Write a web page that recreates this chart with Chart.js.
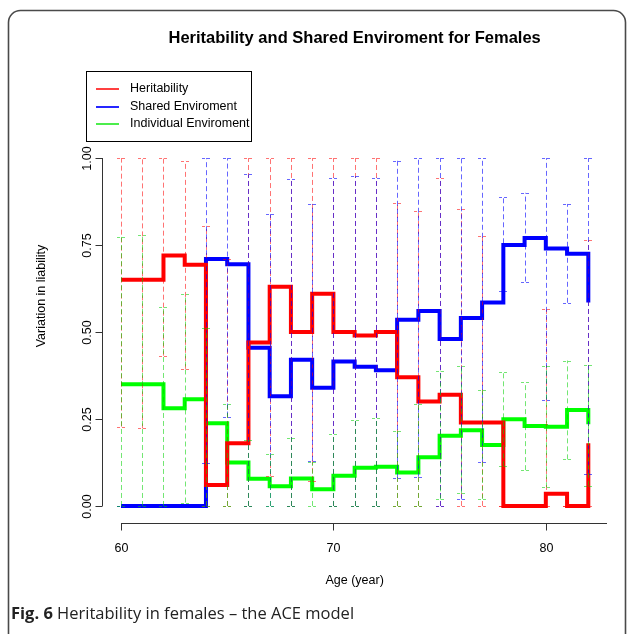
<!DOCTYPE html>
<html>
<head>
<meta charset="utf-8">
<script src="https://cdn.jsdelivr.net/npm/chart.js@4/dist/chart.umd.min.js"></script>
<style>
  html, body { margin: 0; padding: 0; background: #ffffff; }
  #wrap { width: 627px; height: 634px; position: relative; }
</style>
</head>
<body>
<div id="wrap"><canvas id="c" width="627" height="634"></canvas></div>
<script>
// ---------- data ----------
const ages = [60, 61, 62, 63, 64, 65, 66, 67, 68, 69, 70, 71, 72, 73, 74, 75, 76, 77, 78, 79, 80, 81, 82];

const heritability   = [0.65, 0.65, 0.72, 0.693, 0.06, 0.18, 0.47, 0.63, 0.50, 0.61, 0.50, 0.49, 0.50, 0.37, 0.30, 0.32, 0.24, 0.24, 0.00, 0.00, 0.035, 0.00, 0.18];
const sharedEnv      = [0.00, 0.00, 0.00, 0.00, 0.71, 0.695, 0.455, 0.315, 0.42, 0.34, 0.415, 0.40, 0.39, 0.535, 0.56, 0.48, 0.54, 0.585, 0.75, 0.77, 0.74, 0.725, 0.585];
const individualEnv  = [0.35, 0.35, 0.281, 0.307, 0.238, 0.125, 0.078, 0.057, 0.079, 0.048, 0.087, 0.11, 0.113, 0.096, 0.14, 0.202, 0.218, 0.175, 0.249, 0.23, 0.228, 0.276, 0.235];

const heritLower  = [0.228, 0.223, 0.432, 0.394, 0, 0, 0, 0.086, 0, 0.072, 0, 0, 0, 0, 0, 0, 0, 0, 0, 0, 0, 0, 0];
const heritUpper  = [1.0, 1.0, 1.0, 0.992, 0.805, 0.71, 1.0, 1.0, 1.0, 1.0, 1.0, 1.0, 1.0, 0.872, 0.848, 0.944, 0.853, 0.776, 0, 0, 0.565, 0, 0.764];
const sharedLower = [0, 0, 0, 0, 0.123, 0.257, 0, 0, 0, 0.13, 0, 0, 0, 0.081, 0.084, 0, 0.019, 0.127, 0.617, 0.645, 0.305, 0.584, 0.092];
const sharedUpper = [0, 0, 0, 0, 1.0, 1.0, 0.953, 0.839, 0.939, 0.868, 0.944, 0.948, 0.944, 0.992, 1.0, 1.0, 1.0, 1.0, 0.887, 0.90, 1.0, 0.868, 1.0];
const indivLower  = [0, 0, 0, 0.01, 0, 0, 0, 0, 0, 0, 0, 0, 0, 0, 0, 0.019, 0.036, 0.02, 0.114, 0.103, 0.054, 0.134, 0.058];
const indivUpper  = [0.774, 0.779, 0.573, 0.608, 0.511, 0.293, 0.19, 0.148, 0.196, 0.126, 0.206, 0.247, 0.254, 0.216, 0.292, 0.389, 0.402, 0.333, 0.384, 0.356, 0.402, 0.418, 0.405];

const seriesNames = ["Heritability", "Shared Enviroment", "Individual Enviroment"];
const xTicks = [60, 70, 80];
const yTicks = [0, 0.25, 0.5, 0.75, 1.0];
const yTickLabels = ["0.00", "0.25", "0.50", "0.75", "1.00"];
const chartTitle = "Heritability and Shared Enviroment for Females";
const xTitle = "Age (year)";
const yTitle = "Variation in liability";
const captionBold = "Fig. 6";
const captionText = " Heritability in females \u2013 the ACE model";

// ---------- styles ----------
const lineColors = ["#ff0000", "#0000ff", "#00ff00"];
const barColors = ["rgba(255,0,0,0.55)", "rgba(0,0,255,0.6)", "rgba(0,210,0,0.55)"];
const legendColors = ["rgba(255,0,0,0.75)", "rgba(0,0,255,0.85)", "rgba(0,230,0,0.7)"];
const FONT = "'Liberation Sans', Arial, Helvetica, sans-serif";

const toPts = (arr) => ages.map((a, i) => ({ x: a, y: arr[i] }));
const ciSets = [
  { lo: heritLower, hi: heritUpper },
  { lo: sharedLower, hi: sharedUpper },
  { lo: indivLower, hi: indivUpper }
];

const errorBarsPlugin = {
  id: 'errorBars',
  afterDatasetsDraw(chart) {
    const ctx = chart.ctx, xs = chart.scales.x, ys = chart.scales.y;
    ctx.save();
    ciSets.forEach((ci, s) => {
      ctx.strokeStyle = barColors[s];
      ctx.lineWidth = 1;
      ages.forEach((a, i) => {
        const px = Math.round(xs.getPixelForValue(a)) + 0.5;
        const y1 = ys.getPixelForValue(ci.lo[i]);
        const y2 = ys.getPixelForValue(ci.hi[i]);
        ctx.setLineDash([5, 3]);
        ctx.beginPath();
        ctx.moveTo(px, y1);
        ctx.lineTo(px, y2);
        ctx.stroke();
        ctx.setLineDash([3, 2]);
        [y1, y2].forEach(yy => {
          const py = Math.round(yy) + 0.5;
          ctx.beginPath();
          ctx.moveTo(px - 4.5, py);
          ctx.lineTo(px + 4.5, py);
          ctx.stroke();
        });
      });
    });
    ctx.restore();
  }
};

const decorPlugin = {
  id: 'decor',
  afterDraw(chart) {
    const ctx = chart.ctx, xs = chart.scales.x, ys = chart.scales.y;
    const ca = chart.chartArea;
    ctx.save();
    ctx.setLineDash([]);
    // outer rounded frame
    ctx.strokeStyle = "#4a4a4a";
    ctx.lineWidth = 1.6;
    ctx.beginPath();
    ctx.roundRect(8.5, 10.5, 617, 660, 12);
    ctx.stroke();

    // title
    ctx.fillStyle = "#000";
    ctx.font = "bold 16.5px " + FONT;
    ctx.textAlign = "center";
    ctx.textBaseline = "middle";
    ctx.fillText(chartTitle, (ca.left + ca.right) / 2, 38);

    // axes
    ctx.strokeStyle = "#333";
    ctx.lineWidth = 1;
    const axX = Math.round(ca.left) + 0.5;
    ctx.beginPath();
    ctx.moveTo(axX, ys.getPixelForValue(yTicks[0]));
    ctx.lineTo(axX, ys.getPixelForValue(yTicks[yTicks.length - 1]));
    ctx.stroke();
    ctx.font = "12.5px " + FONT;
    yTicks.forEach((v, i) => {
      const py = Math.round(ys.getPixelForValue(v)) + 0.5;
      ctx.beginPath();
      ctx.moveTo(axX, py);
      ctx.lineTo(axX - 7, py);
      ctx.stroke();
      ctx.save();
      ctx.translate(88, py);
      ctx.rotate(-Math.PI / 2);
      ctx.textAlign = "center";
      ctx.textBaseline = "middle";
      ctx.fillText(yTickLabels[i], 0, 0);
      ctx.restore();
    });
    const axY = 523.5;
    ctx.beginPath();
    ctx.moveTo(xs.getPixelForValue(xTicks[0]), axY);
    ctx.lineTo(ca.right, axY);
    ctx.stroke();
    xTicks.forEach(v => {
      const px = Math.round(xs.getPixelForValue(v)) + 0.5;
      ctx.beginPath();
      ctx.moveTo(px, axY);
      ctx.lineTo(px, axY + 7);
      ctx.stroke();
      ctx.textAlign = "center";
      ctx.textBaseline = "middle";
      ctx.fillText(String(v), px, 549);
    });
    ctx.fillText(xTitle, (ca.left + ca.right) / 2, 581);
    ctx.save();
    ctx.translate(42, 296);
    ctx.rotate(-Math.PI / 2);
    ctx.fillText(yTitle, 0, 0);
    ctx.restore();

    // legend
    ctx.strokeStyle = "#000";
    ctx.lineWidth = 1;
    ctx.strokeRect(86.5, 71.5, 165, 70);
    const rows = [89, 107, 124];
    seriesNames.forEach((n, i) => {
      ctx.strokeStyle = legendColors[i];
      ctx.lineWidth = 2;
      ctx.beginPath();
      ctx.moveTo(96, rows[i]);
      ctx.lineTo(119, rows[i]);
      ctx.stroke();
      ctx.fillStyle = "#000";
      ctx.textAlign = "left";
      ctx.textBaseline = "middle";
      ctx.font = "12.5px " + FONT;
      ctx.fillText(n, 130, rows[i]);
    });

    // caption
    ctx.textAlign = "left";
    ctx.textBaseline = "alphabetic";
    ctx.fillStyle = "#222";
    ctx.font = "bold 16.5px 'Open Sans', sans-serif";
    ctx.fillText(captionBold, 11, 619);
    const w = ctx.measureText(captionBold).width;
    ctx.font = "16.5px 'Open Sans', sans-serif";
    ctx.fillText(captionText, 11 + w, 619);
    ctx.restore();
  }
};

new Chart(document.getElementById('c'), {
  type: 'line',
  data: {
    datasets: [
      { label: seriesNames[0], data: toPts(heritability), borderColor: lineColors[0] },
      { label: seriesNames[1], data: toPts(sharedEnv), borderColor: lineColors[1] },
      { label: seriesNames[2], data: toPts(individualEnv), borderColor: lineColors[2] }
    ].map(d => Object.assign(d, { stepped: 'before', borderWidth: 4, pointRadius: 0, fill: false, tension: 0, clip: false }))
  },
  options: {
    responsive: false,
    devicePixelRatio: 1,
    animation: false,
    layout: { padding: { left: 102.3, top: 144.1, right: 20, bottom: 114.1 } },
    scales: {
      x: { type: 'linear', min: 59.12, max: 82.88, display: false },
      y: { type: 'linear', min: -0.04, max: 1.04, display: false }
    },
    plugins: { legend: { display: false }, title: { display: false }, tooltip: { enabled: false } }
  },
  plugins: [errorBarsPlugin, decorPlugin]
});
</script>
</body>
</html>
